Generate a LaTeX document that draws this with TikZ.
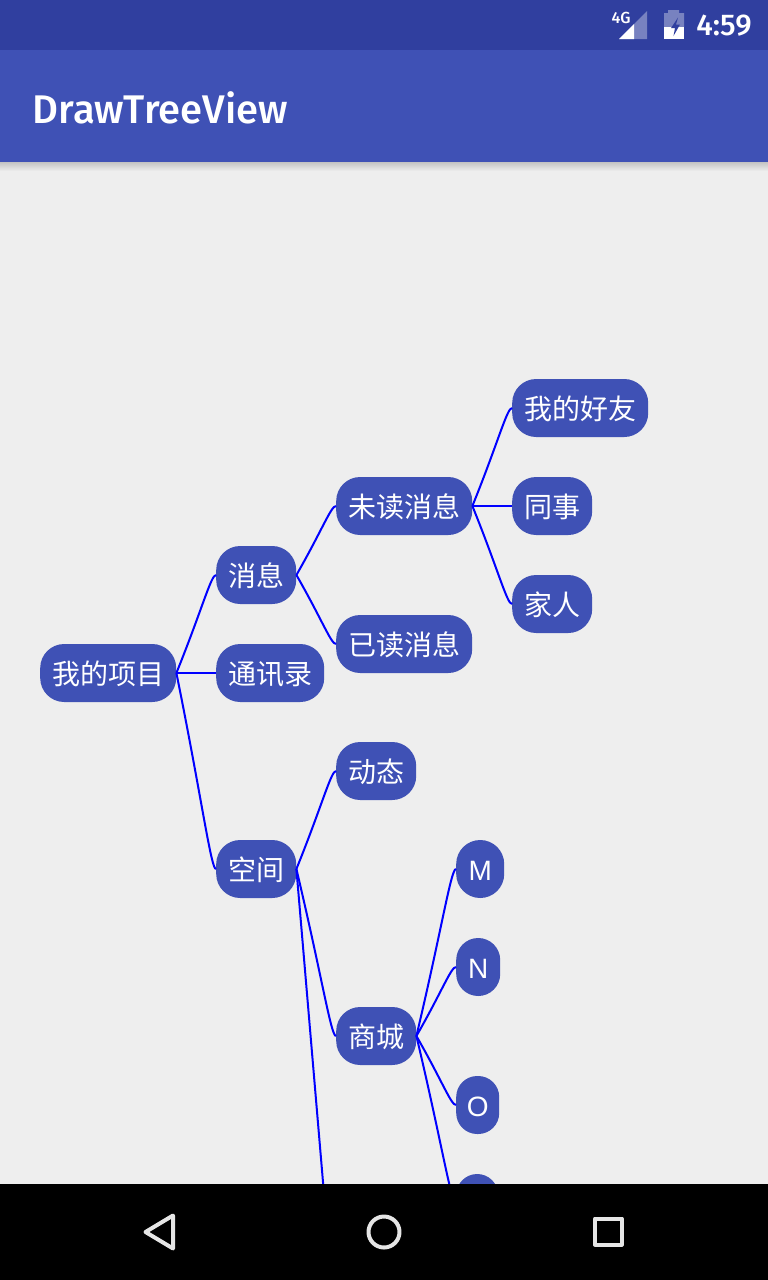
\documentclass[tikz,border=0pt]{standalone}
\usepackage{fontspec}
\setmainfont{Noto Sans CJK SC}
\newfontfamily\titlefont{Fira Sans Medium}
\newfontfamily\latinfont{Liberation Sans}
\usetikzlibrary{calc}
\definecolor{indigo}{HTML}{3F51B5}
\definecolor{indigodark}{HTML}{303F9F}
\definecolor{canvas}{HTML}{EEEEEE}
\definecolor{navicon}{HTML}{E6E6E6}
\tikzset{
    treenode/.style={fill=indigo, text=white, rounded corners=24pt, anchor=west,
        minimum height=58pt, inner xsep=0pt, inner ysep=0pt, text height=22pt, text depth=0pt,
        font=\fontsize{28pt}{28pt}\selectfont},
    treelink/.style={draw=blue, line width=2pt},
    navstroke/.style={draw=navicon, line width=4pt, line join=round},
}
\newcommand{\treelink}[2]{%
    \draw[treelink] (#1.east) .. controls ($(#1.east)!0.65!(#2.west)$) and ($(#2.west)+(-5,0)$) .. (#2.west);}
\begin{document}
\begin{tikzpicture}[x=1pt, y=-1pt]
    \useasboundingbox (0, 0) rectangle (768, 1280);
    % фон
    \fill[canvas] (0, 0) rectangle (768, 1280);
    \shade[top color=black!18!canvas, bottom color=canvas] (0, 162) rectangle (768, 171);
    \fill[indigo] (0, 50) rectangle (768, 162);
    \fill[indigodark] (0, 0) rectangle (768, 50);
    \node[text=white, anchor=west, inner sep=0pt, font=\titlefont\fontsize{40pt}{40pt}\selectfont]
        (title) at (32.5, 108) {DrawTreeView};
    % статус
    \node[text=white, inner sep=0pt, font=\titlefont\fontsize{16pt}{16pt}\selectfont] (net) at (621, 18) {4G};
    \fill[white, opacity=0.35] (619, 39) -- (647, 11) -- (647, 39) -- cycle;
    \fill[white] (619, 39) -- (634, 24) -- (634, 39) -- cycle;
    \fill[white, opacity=0.35] (664, 13) -- (668, 13) -- (668, 10) -- (679, 10) -- (679, 13) -- (684, 13) -- (684, 27) -- (664, 27) -- cycle;
    \fill[white] (664, 27) rectangle (684, 39);
    \fill[indigodark] (678, 17.5) -- (671, 28) -- (675, 28) -- (673.5, 36) -- (680, 24.5) -- (676, 24.5) -- cycle;
    \node[text=white, inner sep=0pt, font=\titlefont\fontsize{30pt}{30pt}\selectfont] (clock) at (724, 26) {4:59};
    % узлы
    \node[treenode, minimum width=136pt] (root) at (40, 673) {我的项目};
    \node[treenode, minimum width=80pt] (msg) at (216, 575) {消息};
    \node[treenode, minimum width=108pt] (contacts) at (216, 673) {通讯录};
    \node[treenode, minimum width=80pt] (space) at (216, 869) {空间};
    \node[treenode, minimum width=136pt] (unread) at (336, 506) {未读消息};
    \node[treenode, minimum width=136pt] (read) at (336, 644) {已读消息};
    \node[treenode, minimum width=80pt] (feed) at (336, 771) {动态};
    \node[treenode, minimum width=80pt] (shop) at (336, 1036) {商城};
    \node[treenode, minimum width=136pt] (friends) at (512, 408) {我的好友};
    \node[treenode, minimum width=80pt] (mates) at (512, 506) {同事};
    \node[treenode, minimum width=80pt] (family) at (512, 604) {家人};
    \node[treenode, minimum width=48pt] (nodem) at (456, 869) {\latinfont M};
    \node[treenode, minimum width=44pt, rounded corners=22pt] (noden) at (456, 967) {\latinfont N};
    \node[treenode, minimum width=43pt, rounded corners=21pt] (nodeo) at (456, 1105) {\latinfont O};
    \node[treenode, minimum width=42pt, rounded corners=21pt] (nodep) at (456, 1203) {};
    \coordinate (hidden) at (336, 1335);
    % связи
    \foreach \a/\b in {root/msg, root/contacts, root/space, msg/unread, msg/read,
        unread/friends, unread/mates, unread/family, space/feed, space/shop,
        shop/nodem, shop/noden, shop/nodeo, shop/nodep} {
        \treelink{\a}{\b}
    }
    \draw[treelink] (space.east) -- (hidden);
    % панель
    \fill[black] (0, 1184) rectangle (768, 1280);
    \draw[navstroke] (173, 1215.5) -- (173, 1248.5) -- (145.5, 1232) -- cycle;
    \draw[navstroke] (384, 1232) circle (15.5);
    \draw[navstroke] (595, 1218.5) rectangle (621.5, 1244.5);
\end{tikzpicture}
\end{document}
